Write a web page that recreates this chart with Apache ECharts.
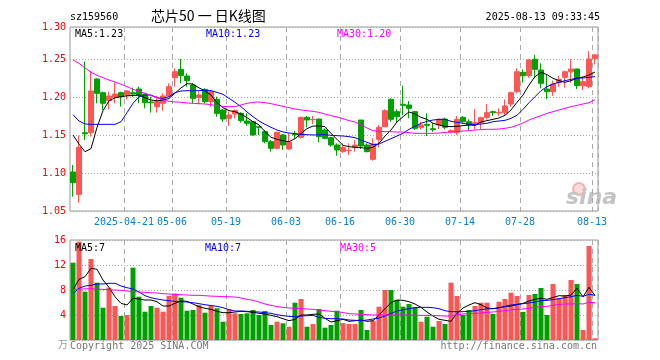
<!DOCTYPE html>
<html>
<head>
<meta charset="utf-8">
<script src="https://cdn.jsdelivr.net/npm/echarts/dist/echarts.min.js"></script>
<style>html,body{margin:0;padding:0;background:#fff}#c{width:660px;height:360px}</style>
</head>
<body>
<div id="c"></div>
<script>
const dates = ['2025-04-08','2025-04-09','2025-04-10','2025-04-11','2025-04-14','2025-04-15','2025-04-16','2025-04-17','2025-04-18','2025-04-21',
'2025-04-22','2025-04-23','2025-04-24','2025-04-25','2025-04-28','2025-04-29','2025-04-30','2025-05-06','2025-05-07','2025-05-08',
'2025-05-09','2025-05-12','2025-05-13','2025-05-14','2025-05-15','2025-05-16','2025-05-19','2025-05-20','2025-05-21','2025-05-22',
'2025-05-23','2025-05-26','2025-05-27','2025-05-28','2025-05-29','2025-05-30','2025-06-03','2025-06-04','2025-06-05','2025-06-06',
'2025-06-09','2025-06-10','2025-06-11','2025-06-12','2025-06-13','2025-06-16','2025-06-17','2025-06-18','2025-06-19','2025-06-20',
'2025-06-23','2025-06-24','2025-06-25','2025-06-26','2025-06-27','2025-06-30','2025-07-01','2025-07-02','2025-07-03','2025-07-04',
'2025-07-07','2025-07-08','2025-07-09','2025-07-10','2025-07-11','2025-07-14','2025-07-15','2025-07-16','2025-07-17','2025-07-18',
'2025-07-21','2025-07-22','2025-07-23','2025-07-24','2025-07-25','2025-07-28','2025-07-29','2025-07-30','2025-07-31','2025-08-01',
'2025-08-04','2025-08-05','2025-08-06','2025-08-07','2025-08-08','2025-08-11','2025-08-12','2025-08-13'];

const opens = [1.1013,1.0719,1.1530,1.1530,1.2237,1.2057,1.1952,1.1996,1.2057,1.2026,
1.2057,1.2105,1.2039,1.1934,1.1873,1.1917,1.2013,1.2254,1.2364,1.2276,
1.2158,1.1991,1.2101,1.1939,1.1969,1.1829,1.1719,1.1776,1.1785,1.1684,
1.1675,1.1609,1.1544,1.1412,1.1325,1.1500,1.1316,1.1513,1.1469,1.1732,
1.1702,1.1710,1.1566,1.1465,1.1368,1.1281,1.1295,1.1338,1.1697,1.1368,
1.1180,1.1443,1.1610,1.1969,1.1807,1.1904,1.1895,1.1807,1.1601,1.1640,
1.1583,1.1632,1.1710,1.1539,1.1531,1.1732,1.1675,1.1632,1.1662,1.1732,
1.1807,1.1789,1.1794,1.1908,1.2070,1.2325,1.2281,1.2496,1.2355,1.2105,
1.2070,1.2189,1.2259,1.2333,1.2368,1.2149,1.2136,1.2509];

const closes = [1.0873,1.1338,1.1515,1.2079,1.2048,1.1917,1.2013,1.2039,1.2004,1.2079,
1.2039,1.2026,1.1925,1.1925,1.1939,1.2013,1.2136,1.2333,1.2281,1.2215,
1.1982,1.2026,1.1939,1.2070,1.1785,1.1710,1.1763,1.1820,1.1689,1.1654,
1.1500,1.1601,1.1412,1.1325,1.1535,1.1368,1.1404,1.1504,1.1732,1.1697,
1.1706,1.1478,1.1456,1.1368,1.1303,1.1333,1.1299,1.1368,1.1355,1.1281,
1.1382,1.1601,1.1820,1.1706,1.1741,1.1890,1.1851,1.1588,1.1632,1.1627,
1.1570,1.1706,1.1601,1.1557,1.1706,1.1675,1.1632,1.1662,1.1728,1.1794,
1.1794,1.1798,1.1882,1.2057,1.2333,1.2281,1.2487,1.2364,1.2180,1.2070,
1.2171,1.2232,1.2333,1.2368,1.2149,1.2202,1.2500,1.2553];

const lows = [1.0689,1.0610,1.1434,1.1478,1.1917,1.1829,1.1838,1.1917,1.1873,1.1969,
1.2004,1.1917,1.1851,1.1794,1.1794,1.1820,1.2004,1.2136,1.2180,1.2136,
1.1917,1.1904,1.1917,1.1873,1.1741,1.1675,1.1618,1.1719,1.1662,1.1618,
1.1491,1.1500,1.1390,1.1281,1.1311,1.1303,1.1303,1.1456,1.1456,1.1601,
1.1645,1.1404,1.1443,1.1346,1.1228,1.1268,1.1237,1.1281,1.1316,1.1272,
1.1162,1.1338,1.1601,1.1675,1.1662,1.1763,1.1719,1.1566,1.1575,1.1487,
1.1544,1.1579,1.1575,1.1522,1.1500,1.1653,1.1566,1.1579,1.1579,1.1706,
1.1750,1.1750,1.1763,1.1873,1.2048,1.2189,1.2254,1.2246,1.2114,1.1969,
1.2013,1.2136,1.2123,1.2189,1.2105,1.2092,1.2114,1.2430];

const highs = [1.1105,1.1491,1.2465,1.2342,1.2245,1.2070,1.2070,1.2193,1.2070,1.2092,
1.2123,1.2136,1.2048,1.2004,1.2013,1.2048,1.2180,1.2377,1.2500,1.2311,
1.2180,1.2070,1.2114,1.2092,1.2004,1.1838,1.1807,1.1838,1.1798,1.1785,
1.1684,1.1618,1.1566,1.1434,1.1544,1.1513,1.1522,1.1553,1.1741,1.1750,
1.1750,1.1715,1.1588,1.1478,1.1390,1.1390,1.1390,1.1434,1.1697,1.1390,
1.1456,1.1632,1.1838,1.1982,1.1838,1.2149,1.1947,1.1816,1.1675,1.1785,
1.1654,1.1719,1.1728,1.1575,1.1750,1.1750,1.1706,1.1842,1.1741,1.1908,
1.1820,1.1851,1.1969,1.2070,1.2377,1.2364,1.2496,1.2553,1.2443,1.2289,
1.2215,1.2276,1.2346,1.2500,1.2373,1.2268,1.2605,1.2566];

const ma5 = [1.150,1.138,1.128,1.132,1.160,1.182,1.195,1.199,1.2005,1.2015,
1.202,1.2025,1.199,1.196,1.195,1.196,1.198,1.205,1.212,1.2175,
1.217,1.212,1.208,1.2026,1.1925,1.186,1.182,1.1807,1.1776,1.1728,
1.1675,1.1632,1.1544,1.147,1.1443,1.1425,1.1412,1.1452,1.152,1.1583,
1.1618,1.1618,1.161,1.152,1.1443,1.1364,1.1346,1.1338,1.1333,1.1325,
1.1338,1.139,1.1487,1.1566,1.1671,1.1741,1.1803,1.1776,1.1732,1.1706,
1.1654,1.1632,1.1614,1.161,1.1614,1.1623,1.1632,1.1627,1.1671,1.1689,
1.1706,1.1724,1.1759,1.1829,1.193,1.2026,1.2158,1.2268,1.2325,1.2294,
1.2246,1.2215,1.2193,1.2215,1.2246,1.2263,1.2289,1.2329];

const ma10 = [1.1768,1.1684,1.1645,1.164,1.164,1.164,1.164,1.164,1.1675,1.1794,
1.1917,1.2004,1.2026,1.2026,1.1991,1.1982,1.2004,1.2057,1.2079,1.2083,
1.2083,1.2083,1.2088,1.2083,1.2061,1.2035,1.1982,1.193,1.1873,1.1803,
1.1741,1.1684,1.164,1.1601,1.1566,1.154,1.1526,1.1518,1.1509,1.1504,
1.15,1.1504,1.1504,1.1496,1.1491,1.1487,1.1478,1.1465,1.1434,1.1404,
1.1373,1.1382,1.1417,1.1452,1.1487,1.1522,1.1575,1.1614,1.1654,1.168,
1.1697,1.1706,1.1706,1.168,1.1667,1.1654,1.164,1.1636,1.1645,1.1654,
1.1675,1.1684,1.1693,1.1719,1.1759,1.1838,1.1925,1.2004,1.2083,1.2136,
1.2171,1.2193,1.2215,1.2232,1.225,1.225,1.2259,1.2268];

const ma30 = [1.2487,1.2443,1.2382,1.2325,1.2285,1.2254,1.2224,1.2197,1.2167,1.2136,
1.2101,1.2075,1.2048,1.2018,1.1991,1.1961,1.1943,1.1934,1.193,1.1921,
1.1917,1.1912,1.1908,1.1899,1.1886,1.1877,1.1873,1.1873,1.1895,1.1917,
1.193,1.1934,1.1925,1.1912,1.1895,1.1877,1.186,1.1842,1.1829,1.182,
1.1811,1.1798,1.1776,1.1754,1.1737,1.1715,1.1689,1.1671,1.1632,1.1592,
1.1557,1.1548,1.1544,1.1544,1.1539,1.1539,1.1531,1.1522,1.1522,1.1522,
1.1522,1.1526,1.1535,1.1539,1.1544,1.1553,1.1557,1.1566,1.157,1.1575,
1.1575,1.1579,1.1588,1.1601,1.1627,1.1658,1.1697,1.1728,1.1754,1.1785,
1.1807,1.1829,1.1851,1.1873,1.189,1.1908,1.1925,1.1965];

const volumes = [12.37,15.73,7.73,12.96,9.17,5.17,8.37,5.44,3.84,4.0,
11.57,6.93,4.53,5.44,5.17,4.53,7.04,7.41,6.77,4.69,
4.8,5.6,4.37,5.5,5.07,2.93,4.91,4.27,4.16,4.27,
4.8,4.0,4.64,2.4,2.93,2.67,2.13,5.97,6.56,2.13,
2.56,4.96,1.97,2.4,4.69,2.7,2.56,2.56,4.8,1.6,
3.09,5.33,8.0,8.0,6.4,5.33,5.76,5.23,2.93,3.73,
2.13,3.04,2.56,9.17,7.04,4.0,4.8,5.44,5.97,5.97,
4.16,6.13,6.56,7.57,7.04,4.48,7.2,7.36,8.32,4.0,
8.96,6.67,7.2,9.6,8.96,1.6,15.04,0.27];

const volMa5 = [8.0,9.71,10.13,11.47,11.31,9.6,8.43,6.93,5.87,5.6,
6.67,6.56,6.4,6.4,6.13,5.44,5.44,5.87,6.24,6.19,
5.76,5.33,5.07,4.91,4.59,4.37,4.37,4.48,4.59,4.53,
4.43,4.27,4.16,3.95,3.73,3.41,3.09,3.31,4.0,4.0,
4.11,4.16,3.47,2.88,3.09,3.31,2.99,3.09,3.2,2.99,
3.09,4.0,5.01,5.97,6.4,6.35,6.13,5.76,5.23,4.48,
3.84,3.31,3.15,2.99,4.27,5.12,5.6,5.97,5.65,5.12,
5.01,5.17,5.33,5.44,5.65,5.87,6.24,6.51,6.67,6.51,
6.8,7.09,7.04,7.2,8.27,6.9,8.43,7.1];

const volMa10 = [7.47,8.27,8.64,8.75,8.96,8.96,9.07,9.07,8.64,8.37,
8.16,7.68,7.09,6.77,6.56,6.4,6.29,6.19,6.13,6.08,
5.97,5.81,5.65,5.52,5.39,5.17,4.85,4.64,4.64,4.59,
4.53,4.48,4.37,4.27,4.05,3.89,3.79,3.73,3.84,3.89,
3.95,3.63,3.47,3.41,3.41,3.36,3.2,3.15,3.09,3.2,
3.36,3.52,3.84,4.27,4.64,4.85,5.01,5.17,5.23,5.23,
5.17,5.01,4.69,4.53,4.53,4.53,4.59,4.69,4.85,4.98,
5.01,5.17,5.39,5.6,5.71,5.81,5.92,6.08,6.29,6.35,
6.45,6.61,6.77,6.93,7.15,6.99,7.31,7.15];

const volMa30 = [8.1,8.1,8.2,8.2,8.15,8.1,8.05,8.0,7.95,7.84,
7.73,7.68,7.63,7.57,7.52,7.41,7.36,7.31,7.25,7.2,
7.15,7.15,7.09,7.02,6.99,6.93,6.93,6.88,6.72,6.51,
6.35,6.08,5.76,5.55,5.33,5.23,5.12,5.07,5.01,4.96,
4.91,4.8,4.69,4.59,4.53,4.4,4.21,4.16,4.11,4.05,
4.0,4.0,4.0,4.0,4.0,4.0,4.0,3.95,3.95,3.95,
3.89,3.89,3.84,3.84,4.05,4.16,4.21,4.27,4.32,4.43,
4.48,4.59,4.69,4.85,4.91,4.96,5.07,5.23,5.33,5.39,
5.55,5.71,5.76,5.76,5.81,5.76,6.03,5.97];

const labelDates = ['2025-04-21','2025-05-06','2025-05-19','2025-06-03','2025-06-16','2025-06-30','2025-07-14','2025-07-28','2025-08-13'];
const priceTickLabels = ['1.05','1.10','1.15','1.20','1.25','1.30'];
const volTickLabels = ['','4','8','12','16'];

const UP = '#ff5555', DOWN = '#00a000';
const MONO = '"DejaVu Sans Mono", monospace';
const labelSet = new Set(labelDates.map(d => dates.indexOf(d)));
const showIdx = (i) => labelSet.has(i);

const candleData = dates.map((d, i) => [opens[i], closes[i], lows[i], highs[i]]);
const volData = volumes.map((v, i) => ({value: v, itemStyle: {color: closes[i] >= opens[i] ? UP : DOWN}}));

function txt(x, y, text, color, size, family, align, extra) {
  return Object.assign({type: 'text', x: x, y: y, silent: true, z: 10,
    style: {text: text, fill: color, fontSize: size, fontFamily: family, align: align || 'left', verticalAlign: 'middle'}}, extra || {});
}

const last = a => a[a.length - 1];

const splitV = {show: true, interval: showIdx, lineStyle: {color: '#aaaaaa', width: 1, type: [5, 4]}};

const chart = echarts.init(document.getElementById('c'), null, {renderer: 'canvas'});
chart.setOption({
  animation: false,
  backgroundColor: '#ffffff',
  grid: [
    {left: 70, top: 27, width: 528, height: 184, show: true, borderColor: '#999999', borderWidth: 1},
    {left: 70, top: 240, width: 528, height: 100, show: true, borderColor: '#999999', borderWidth: 1}
  ],
  xAxis: [
    {type: 'category', gridIndex: 0, data: dates, boundaryGap: true,
      axisLine: {show: false}, axisTick: {show: false},
      axisLabel: {interval: showIdx, color: '#0a80d4', fontFamily: MONO, fontSize: 10, margin: 6,
        padding: [0, 6, 0, 0],
        formatter: (v) => v === labelDates[0] ? v : v.slice(5)},
      splitLine: splitV},
    {type: 'category', gridIndex: 1, data: dates, boundaryGap: true,
      axisLine: {show: false}, axisTick: {show: false}, axisLabel: {show: false},
      splitLine: splitV}
  ],
  yAxis: [
    {type: 'value', gridIndex: 0, min: 1.05, max: 1.2921, interval: 0.05, scale: true,
      axisLine: {show: false}, axisTick: {show: false},
      axisLabel: {color: '#ff0000', fontFamily: MONO, fontSize: 10, margin: 4,
        formatter: (v, i) => priceTickLabels[i] !== undefined ? priceTickLabels[i] : ''},
      splitLine: {show: true, lineStyle: {color: '#aaaaaa', width: 1, type: [1, 2]}}},
    {type: 'value', gridIndex: 1, min: 0, max: 16, interval: 4,
      axisLine: {show: false}, axisTick: {show: false},
      axisLabel: {color: '#ff0000', fontFamily: MONO, fontSize: 10, margin: 4,
        formatter: (v, i) => volTickLabels[i] !== undefined ? volTickLabels[i] : ''},
      splitLine: {show: true, lineStyle: {color: '#aaaaaa', width: 1, type: [1, 2]}}}
  ],
  series: [
    {type: 'candlestick', xAxisIndex: 0, yAxisIndex: 0, data: candleData, barWidth: 5, silent: true,
      itemStyle: {color: UP, color0: DOWN, borderColor: UP, borderColor0: DOWN, borderWidth: 1}},
    {type: 'line', xAxisIndex: 0, yAxisIndex: 0, data: ma5, showSymbol: false, silent: true,
      lineStyle: {color: '#000000', width: 1}, z: 3},
    {type: 'line', xAxisIndex: 0, yAxisIndex: 0, data: ma10, showSymbol: false, silent: true,
      lineStyle: {color: '#0000ff', width: 1}, z: 3},
    {type: 'line', xAxisIndex: 0, yAxisIndex: 0, data: ma30, showSymbol: false, silent: true,
      lineStyle: {color: '#ff00ff', width: 1}, z: 3},
    {type: 'bar', xAxisIndex: 1, yAxisIndex: 1, data: volData, barWidth: 5, silent: true},
    {type: 'line', xAxisIndex: 1, yAxisIndex: 1, data: volMa5, showSymbol: false, silent: true,
      lineStyle: {color: '#000000', width: 1}, z: 3},
    {type: 'line', xAxisIndex: 1, yAxisIndex: 1, data: volMa10, showSymbol: false, silent: true,
      lineStyle: {color: '#0000ff', width: 1}, z: 3},
    {type: 'line', xAxisIndex: 1, yAxisIndex: 1, data: volMa30, showSymbol: false, silent: true,
      lineStyle: {color: '#ff00ff', width: 1}, z: 3}
  ],
  graphic: [
    {type: 'circle', shape: {cx: 579, cy: 189, r: 6}, silent: true, z: 0,
      style: {fill: 'rgba(240,150,150,0.35)', stroke: 'rgba(235,140,140,0.6)', lineWidth: 2}},
    {type: 'text', x: 566, y: 198, silent: true, z: 0,
      style: {text: 'sina', fill: '#c4c4c4', fontSize: 22, fontWeight: 'bold', fontStyle: 'italic',
        fontFamily: 'DejaVu Sans', align: 'left', verticalAlign: 'middle'}},
    txt(70, 17, 'sz159560', '#000000', 10, MONO),
    txt(151, 16, '芯片50 一 日K线图', '#000000', 14, '"Noto Sans CJK SC"'),
    txt(600, 17, '2025-08-13 09:33:45', '#000000', 10, MONO, 'right'),
    txt(75, 34, 'MA5:' + last(ma5).toFixed(2), '#000000', 10, MONO),
    txt(206, 34, 'MA10:' + last(ma10).toFixed(2), '#0000ff', 10, MONO),
    txt(337, 34, 'MA30:' + last(ma30).toFixed(2), '#ff00ff', 10, MONO),
    txt(75, 248, 'MA5:' + Math.floor(last(volMa5)), '#000000', 10, MONO),
    txt(205, 248, 'MA10:' + Math.floor(last(volMa10)), '#0000ff', 10, MONO),
    txt(340, 248, 'MA30:' + Math.floor(last(volMa30)), '#ff00ff', 10, MONO),
    txt(58, 344, '万', '#999999', 10, '"Noto Sans CJK SC"'),
    txt(70, 346, 'Copyright 2025 SINA.COM', '#777777', 10, MONO),
    txt(597, 346, 'http://finance.sina.com.cn', '#777777', 10, MONO, 'right')
  ]
});
</script>
</body>
</html>
